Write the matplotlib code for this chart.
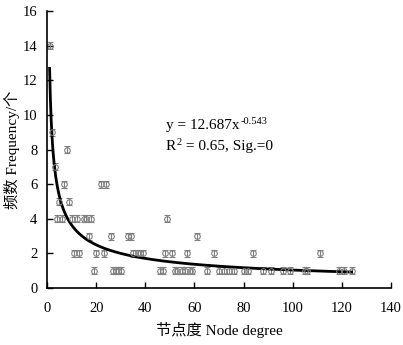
import numpy as np
import matplotlib.pyplot as plt

plt.rcParams['font.family'] = ['Liberation Serif', 'Noto Sans CJK SC']

degree = [1, 2, 3, 4, 5, 6, 7, 8, 9, 10, 11, 12, 13, 15, 16, 17, 18, 19, 20,
          22, 23, 24, 26, 27, 28, 29, 30, 33, 34, 35, 37, 38, 39, 46, 47, 48,
          49, 51, 52, 53, 55, 56, 57, 58, 59, 61, 65, 68, 70, 72, 74, 76, 80,
          82, 84, 88, 91, 96, 99, 105, 106, 111, 119, 121, 124]
freq = [14, 9, 7, 4, 5, 4, 6, 8, 5, 4, 2, 4, 2, 4, 4, 3, 4, 1, 2,
        6, 2, 6, 3, 1, 1, 1, 1, 3, 3, 2, 2, 2, 2, 1, 1, 2,
        4, 2, 1, 1, 1, 1, 2, 1, 1, 3, 1, 2, 1, 1, 1, 1, 1,
        1, 2, 1, 1, 1, 1, 1, 1, 2, 1, 1, 1]
err = 0.2
a, b = 12.687, -0.543

fig = plt.figure(figsize=(4.03, 3.45), dpi=100)
ax = fig.add_axes([0.117, 0.165, 0.853, 0.803])

ax.errorbar(degree, freq, yerr=err, fmt='o', ms=4, mfc='none', mec='#808080',
            mew=0.8, ecolor='#808080', elinewidth=0.8, capsize=2.5, capthick=0.8)

xs = np.linspace(1, 124, 400)
ax.plot(xs, a * xs ** b, color='black', lw=2)

t1 = ax.text(48.5, 9.4, 'y = 12.687x', fontsize=11, va='center')
ax.annotate('-0.543', xy=(1, 1), xycoords=t1, xytext=(0.5, 1.5),
            textcoords='offset points', fontsize=7.5, va='top', ha='left')
t2 = ax.text(48.3, 8.15, 'R', fontsize=11, va='center')
ax.annotate('2', xy=(1, 1), xycoords=t2, xytext=(0.3, 1.5),
            textcoords='offset points', fontsize=7.5, va='top', ha='left')
ax.annotate(' = 0.65, Sig.=0', xy=(1, 0), xycoords=t2, xytext=(4.5, 0),
            textcoords='offset points', fontsize=11, va='bottom', ha='left')

ax.set_xlim(0, 140)
ax.set_ylim(0, 16)
ax.set_xticks(range(0, 141, 20))
ax.set_yticks(range(0, 17, 2))
ax.spines['top'].set_visible(False)
ax.spines['right'].set_visible(False)
for s in ['left', 'bottom']:
    ax.spines[s].set_linewidth(1.2)
ax.tick_params(direction='in', length=4, width=1, labelsize=10.5)
ax.tick_params(axis='x', pad=10)
ax.tick_params(axis='y', pad=7)

ax.set_xlabel('节点度 Node degree', fontsize=11, labelpad=5)
ax.set_ylabel('频数 Frequency/个', fontsize=11, labelpad=2)

fig.savefig('out.png', dpi=100)
